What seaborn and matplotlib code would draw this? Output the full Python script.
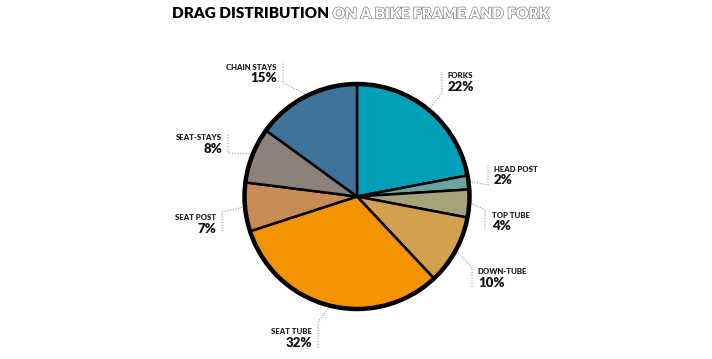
import numpy as np
import matplotlib
matplotlib.use('Agg')
import matplotlib.pyplot as plt
import matplotlib.patheffects as pe
import seaborn as sns

# data
parts = ['FORKS', 'HEAD POST', 'TOP TUBE', 'DOWN-TUBE', 'SEAT TUBE',
         'SEAT POST', 'SEAT-STAYS', 'CHAIN STAYS']
drag_pct = [22, 2, 4, 10, 32, 7, 8, 15]
colors = ['#00a0b9', '#6aa59d', '#a6a37b', '#d3a04f', '#f29400',
          '#c88d55', '#8d8279', '#3f739a']

# label layout in figure pixels (y from top): text x, name y, align, leader x, elbow y, end y
label_pos = [
    (448, 76, 'left', 442, 93, 72),
    (494, 169, 'left', 488, 185, 165),
    (492, 215, 'left', 485, 210, 231),
    (478, 272, 'left', 472, 268, 288),
    (312, 332, 'right', 318, 322, 348),
    (216, 218, 'right', 222, 212, 233),
    (222, 138, 'right', 228, 153, 134),
    (277, 67, 'right', 283, 83, 62),
]

W, H = 712, 359
cx, cy, R = 357, 196.5, 112.5

sns.set_theme(style='white')
plt.rcParams['font.family'] = ['Lato', 'DejaVu Sans']

fig = plt.figure(figsize=(7.12, 3.59), dpi=100)
ax = fig.add_axes([0, 0, 1, 1])

wedges, _ = ax.pie(drag_pct, colors=colors, startangle=90, counterclock=False,
                   center=(cx, H - cy), radius=R,
                   wedgeprops=dict(edgecolor='black', linewidth=1.8))
ax.add_patch(plt.Circle((cx, H - cy), R, fill=False, edgecolor='black', lw=3.2, zorder=5))
ax.set_xlim(0, W)
ax.set_ylim(0, H)
ax.set_aspect('auto')
ax.axis('off')

for w, name, pct, (tx, ty, ha, vx, ey, endy) in zip(wedges, parts, drag_pct, label_pos):
    mid = np.deg2rad((w.theta1 + w.theta2) / 2)
    x0 = cx + (R + 3) * np.cos(mid)
    y0 = (H - cy) + (R + 3) * np.sin(mid)
    ax.plot([x0, vx, vx], [y0, H - ey, H - endy], ls=(0, (1, 1.5)),
            color='#9a9a9a', lw=0.8, zorder=1)
    ax.text(tx, H - ty, name, ha=ha, va='center', fontsize=5.6,
            fontweight='heavy', color='#222222')
    ax.text(tx, H - ty - 11, f'{pct}%', ha=ha, va='center', fontsize=9.5,
            fontweight='heavy', color='#111111')

t1 = ax.text(172, H - 14, 'DRAG DISTRIBUTION ', ha='left', va='center',
             fontsize=11, fontweight='heavy', color='black')
ax.annotate('ON A BIKE FRAME AND FORK', xy=(1, 0), xycoords=t1,
            ha='left', va='bottom', fontsize=11, fontweight='heavy',
            color='white',
            path_effects=[pe.Stroke(linewidth=0.9, foreground='#777777'), pe.Normal()])

fig.savefig('out.png', dpi=100)
